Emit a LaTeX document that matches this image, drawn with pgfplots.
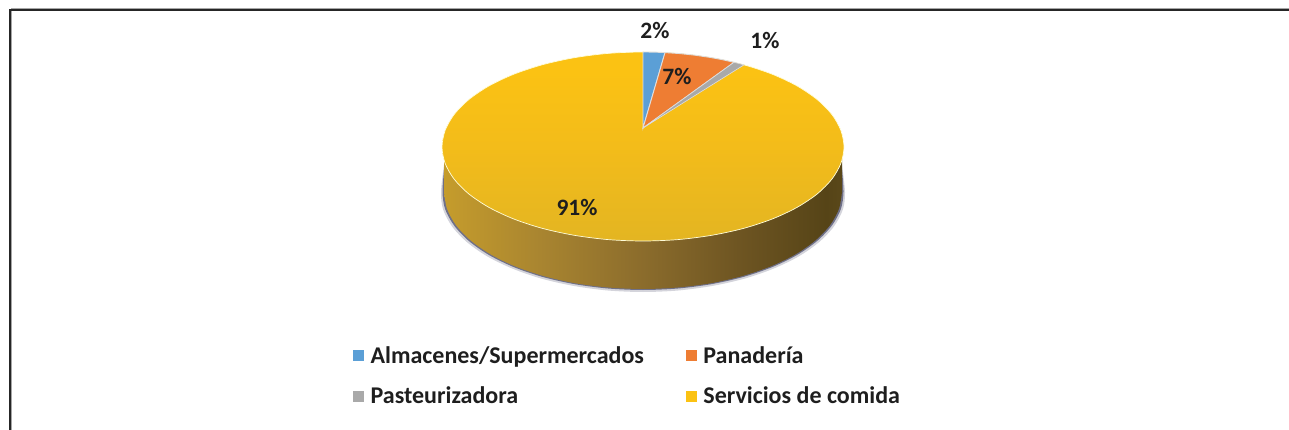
\documentclass[border=0pt]{standalone}
\usepackage{pgfplots}
\pgfplotsset{compat=1.18}
\usepackage{fontspec}
\setmainfont{Carlito}
\definecolor{cblue}{HTML}{5B9FD6}
\definecolor{corange}{HTML}{EE7D33}
\definecolor{cgrey}{HTML}{A9A9A9}
\definecolor{cyellow}{HTML}{FBC213}
\definecolor{ctext}{HTML}{1E1E1E}
\definecolor{ta}{HTML}{E3B522}
\definecolor{tb}{HTML}{F3BC1A}
\definecolor{tc}{HTML}{FBC213}
\definecolor{sa}{HTML}{C59C2C}
\definecolor{sb}{HTML}{A98530}
\definecolor{sc}{HTML}{8B6C2C}
\definecolor{sd}{HTML}{6E5522}
\definecolor{se}{HTML}{564417}
\definecolor{sf}{HTML}{5E4C1C}
\definecolor{shad}{HTML}{6F7088}
\pgfdeclareverticalshading{topshade}{100bp}{color(0bp)=(ta); color(25bp)=(ta); color(50bp)=(tb); color(70bp)=(tc); color(100bp)=(tc)}
\pgfdeclarehorizontalshading{sideshade}{100bp}{color(0bp)=(sa); color(25bp)=(sa); color(37bp)=(sb); color(50bp)=(sc); color(62bp)=(sd); color(73bp)=(se); color(77bp)=(sf); color(100bp)=(sf)}
\begin{document}
\begin{tikzpicture}
\useasboundingbox (0,0) rectangle (1289pt,430pt);
\begin{axis}[
  at={(0,0)}, anchor=south west, scale only axis,
  width=1289pt, height=430pt,
  xmin=0, xmax=1289, ymin=0, ymax=430, y dir=reverse,
  hide axis, clip=false,
  legend image code/.code={\fill[#1] (0pt,-5pt) rectangle (10pt,5pt); \path (15pt,0pt);},
  legend columns=2,
  legend cell align=left,
  legend style={at={(axis cs:353,344)}, anchor=north west, draw=none, fill=none,
    font=\fontsize{24}{29}\selectfont\bfseries\color{ctext},
    inner sep=0pt, row sep=18pt,
    /tikz/every even column/.append style={column sep=40pt}},
]
% frame
\addplot[forget plot, draw=gray!70, line width=1.2pt] coordinates {(11.5,430) (11.5,8.3) (1289,8.3)};
\addplot[forget plot, draw=black!85, line width=1.6pt] coordinates {(9.8,430) (9.8,9.8) (1289,9.8)};
% shadow of the bottom edge
\addplot[forget plot, draw=none, fill=shad, fill opacity=0.3, smooth] coordinates {
(842,165)(845,192)(842.9,209.4)(833.9,226.5)(819,242.2)(798.7,256.4)(773.6,268.6)(744.7,278.6)(712.5,285.9)(678.2,290.5)(643,292)(607.8,290.5)(573.5,285.9)(541.3,278.6)(512.4,268.6)(487.3,256.4)(467,242.2)(452.1,226.5)(443.1,209.4)(441,192)(444,165)};
\addplot[forget plot, draw=none, fill=shad, smooth] coordinates {
(842,170)(843.5,192)(840.9,209)(831.9,225.5)(817.1,241)(797,255)(772.2,267.1)(743.5,276.9)(711.7,284.1)(677.9,288.5)(643,290)(608.1,288.5)(574.3,284.1)(542.5,276.9)(513.8,267.1)(489,255)(468.9,241)(454.1,225.5)(445.1,209)(442.5,192)(444,170)};
% side wall
\addplot[forget plot, draw=none, shading=sideshade, smooth] coordinates {
(842,192)(839,208.8)(830,225.2)(815.3,240.5)(795.4,254.4)(770.9,266.3)(742.5,276)(711.1,283.2)(677.5,287.5)(643,289)(608.5,287.5)(574.9,283.2)(543.5,276)(515,266.3)(490.6,254.4)(470.7,240.5)(456,225.2)(447,208.8)(444,192)};
\addplot[forget plot, draw=none, shading=sideshade] coordinates {(444,147)(842,147)(842,192.5)(444,192.5)} --cycle;
% top surface: Servicios de comida
\addplot[forget plot, draw=white!85!yellow, line width=0.7pt, shading=topshade, smooth cycle] coordinates {
(844,147)(840.9,163.3)(831.9,179.1)(817.1,194)(797,207.4)(772.2,219)(743.5,228.4)(711.7,235.3)(677.9,239.6)(643,241)(608.1,239.6)(574.3,235.3)(542.5,228.4)(513.8,219)(489,207.4)(468.9,194)(454.1,179.1)(445.1,163.3)(442,147)(445.1,130.5)(454.1,114.5)(468.9,99.5)(489,85.9)(513.8,74.2)(542.5,64.7)(574.3,57.7)(608.1,53.4)(643,52)(677.9,53.4)(711.7,57.7)(743.5,64.7)(772.2,74.2)(797,85.9)(817.1,99.5)(831.9,114.5)(840.9,130.5)};
% slices
\addplot[forget plot, draw=white!75!gray, line width=0.9pt, fill=cblue] coordinates {(643,128)(643,52)(654,52.1)(665,52.6)} --cycle;
\addplot[forget plot, draw=white!75!gray, line width=0.9pt, fill=corange] coordinates {(643,128)(665,52.6)(680,53.6)(695,55.2)(710,57.4)(722,59.6)(734,62.3)} --cycle;
\addplot[forget plot, draw=white!75!gray, line width=0.6pt, fill=cgrey] coordinates {(643,128)(734,62.3)(739,63.5)(744,64.9)} --cycle;
\addlegendimage{cblue}\addlegendentry{Almacenes/Supermercados}
\addlegendimage{corange}\addlegendentry{Panadería}
\addlegendimage{cgrey}\addlegendentry{Pasteurizadora}
\addlegendimage{cyellow}\addlegendentry{Servicios de comida}
\node[font=\fontsize{23.5}{28}\selectfont\bfseries, text=ctext] at (axis cs:655,30) {2\%};
\node[font=\fontsize{23.5}{28}\selectfont\bfseries, text=ctext] at (axis cs:765,40) {1\%};
\node[font=\fontsize{23.5}{28}\selectfont\bfseries, text=ctext] at (axis cs:677,76) {7\%};
\node[font=\fontsize{23.5}{28}\selectfont\bfseries, text=ctext] at (axis cs:577,207) {91\%};
\end{axis}
\end{tikzpicture}
\end{document}
